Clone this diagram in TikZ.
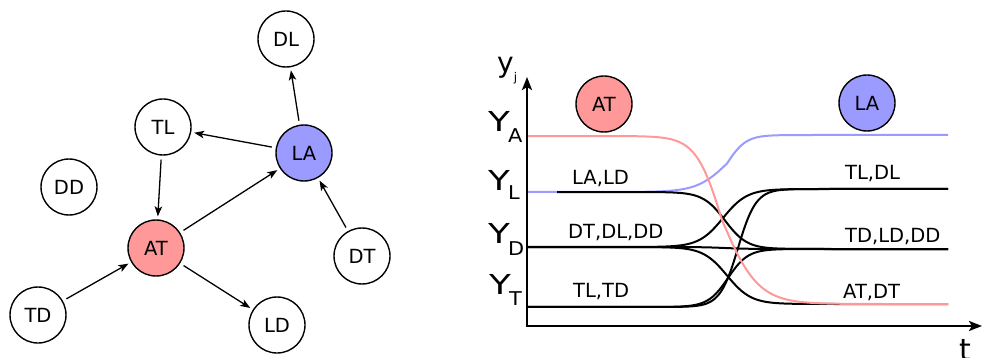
\documentclass[tikz,border=0pt]{standalone}
\usepackage{fontspec}
\usepackage{graphicx}
\setmainfont{DejaVu Sans}
\usetikzlibrary{arrows.meta}

\definecolor{atfill}{RGB}{255,153,153}
\definecolor{lafill}{RGB}{155,155,255}

% level label on the y axis: a wide Y with a lowered subscript
\newcommand\levlab[2]{\scalebox{1.3}[1]{\fontsize{27.5}{28}\selectfont Y}\kern-2pt\raisebox{#2}{\scalebox{1.1}[1]{\fontsize{19}{19}\selectfont #1}}}

\begin{document}
\begin{tikzpicture}[x=1pt,y=-1pt,
  state/.style={circle,draw,line width=1.4pt,minimum size=56pt,inner sep=0pt,
                font=\fontsize{19.5}{20}\selectfont},
  link/.style={line width=1.3pt,-{Stealth[length=10pt,width=7.5pt,inset=2.5pt]},
               shorten <=4pt,shorten >=3pt},
  axis/.style={line width=2.6pt,
               {Stealth[length=13pt,width=10pt,inset=3pt]}-{Stealth[length=13pt,width=10pt,inset=3pt]}},
  curve/.style={line width=2pt},
  lbl/.style={font=\fontsize{19.5}{20}\selectfont,anchor=base west,inner sep=0pt},
  lvl/.style={anchor=base west,inner sep=0pt},
  declare function={sig(\t)=1/(1+exp(-max(-9,min(9,\t))));}
]
\useasboundingbox (0,0) rectangle (982,358);

% ---------- interaction graph ----------
\node[state] (DL) at (286,39) {DL};
\node[state] (TL) at (163,127) {TL};
\node[state,fill=lafill] (LA) at (304,153) {LA};
\node[state] (DD) at (69,187) {DD};
\node[state,fill=atfill] (AT) at (156,248) {AT};
\node[state] (DT) at (362,256) {DT};
\node[state] (TD) at (38,315) {TD};
\node[state] (LD) at (277,325) {LD};

\draw[link] (LA) -- (DL);
\draw[link] (LA) -- (TL);
\draw[link] (TL) -- (AT);
\draw[link] (AT) -- (LA);
\draw[link] (DT) -- (LA);
\draw[link] (TD) -- (AT);
\draw[link] (AT) -- (LD);

% ---------- trajectories ----------
\coordinate (O) at (527,326);
\coordinate (yend) at (527,77);
\coordinate (xend) at (982,326);

% blue: L -> A
\draw[curve,lafill] plot[domain=527:948,samples=300]
  (\x,{192-57*sig((\x-727)/ifthenelse(\x<727,15,9.5))});

% black transitions
\draw[curve] plot[domain=557:948,samples=300] (\x,{192+57*sig((\x-725)/11)});   % LD
\draw[curve] plot[domain=527:948,samples=300] (\x,{247-58*sig((\x-723)/12)});   % DL
\draw[curve] plot[domain=527:948,samples=300] (\x,{247+2*sig((\x-725)/12)});    % DD
\draw[curve] plot[domain=527:948,samples=300] (\x,{247+57*sig((\x-727)/12)});   % DT
\draw[curve] plot[domain=527:948,samples=300] (\x,{307-118*sig((\x-738)/9)});   % TL
\draw[curve] plot[domain=527:948,samples=300] (\x,{307-58*sig((\x-728)/10)});   % TD

% red: A -> T
\draw[curve,atfill] plot[domain=527:948,samples=300]
  (\x,{136+168*sig((\x-722)/ifthenelse(\x<722,13,18))});

\draw[axis] (yend) -- (O) -- (xend);

\node[lvl] (YA) at (488,132) {\levlab{A}{-11pt}};
\node[lvl] (YL) at (488,191) {\levlab{L}{-9pt}};
\node[lvl] (YD) at (488,243) {\levlab{D}{-12pt}};
\node[lvl] (YT) at (489,294) {\levlab{T}{-11pt}};

\node[lvl] (yj) at (497,73) {\fontsize{28}{28}\selectfont y\raisebox{-9pt}{\fontsize{12}{12}\selectfont j}};
\node[anchor=base,inner sep=0pt] (tlab) at (965,360) {\fontsize{30}{30}\selectfont t};

\node[state,fill=atfill] (ATm) at (604,104) {AT};
\node[state,fill=lafill] (LAm) at (867,103) {LA};

\node[lbl] (l1) at (572,185) {LA,LD};
\node[lbl] (l2) at (568,238) {DT,DL,DD};
\node[lbl] (l3) at (573,297) {TL,TD};
\node[lbl] (r1) at (845,180) {TL,DL};
\node[lbl] (r2) at (845,242) {TD,LD,DD};
\node[lbl] (r3) at (843,298) {AT,DT};
\end{tikzpicture}
\end{document}
